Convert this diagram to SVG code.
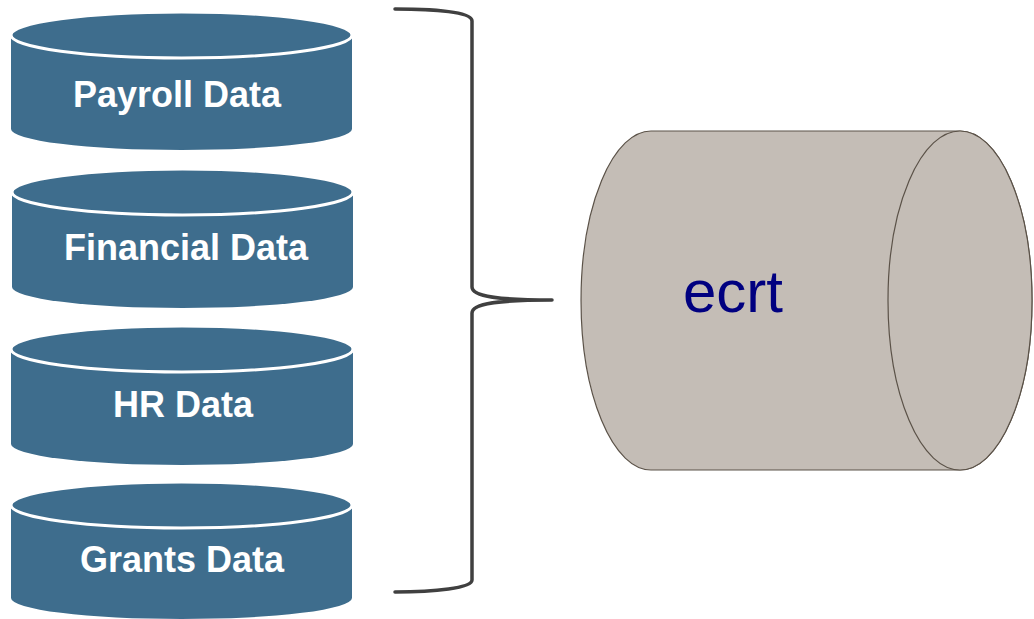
<svg xmlns="http://www.w3.org/2000/svg" width="1034" height="619" viewBox="0 0 1034 619">
<style>
.body{fill:#3e6d8d;}
.top{fill:#3e6d8d;stroke:#ffffff;stroke-width:3;}
.lbl{font-family:"Liberation Sans",Arial,sans-serif;font-weight:bold;font-size:36px;fill:#ffffff;text-anchor:middle;}
.brace{fill:none;stroke:#404040;stroke-width:3.5;stroke-linecap:round;stroke-linejoin:round;}
.gcyl{fill:#c4bdb6;stroke:#5b5248;stroke-width:1.2;}
.ecrt{font-family:"Liberation Sans",Arial,sans-serif;font-size:60px;fill:#000080;}
</style>
<rect width="1034" height="619" fill="#ffffff"/>
<g id="payroll">
<path class="body" d="M11,35 L11,129 A170.5,21 0 0 0 352,129 L352,35 Z"/>
<ellipse class="top" cx="181.5" cy="35" rx="170.5" ry="23"/>
<text class="lbl" x="177" y="107">Payroll Data</text>
</g>
<g id="financial">
<path class="body" d="M12,192 L12,287 A170.5,21 0 0 0 353,287 L353,192 Z"/>
<ellipse class="top" cx="182.5" cy="192" rx="170.5" ry="23"/>
<text class="lbl" x="186" y="260">Financial Data</text>
</g>
<g id="hr">
<path class="body" d="M11,349 L11,444 A171,21 0 0 0 353,444 L353,349 Z"/>
<ellipse class="top" cx="182" cy="349" rx="171" ry="23"/>
<text class="lbl" x="183" y="417">HR Data</text>
</g>
<g id="grants">
<path class="body" d="M11,505 L11,598 A170.5,21 0 0 0 352,598 L352,505 Z"/>
<ellipse class="top" cx="181.5" cy="505" rx="170.5" ry="23"/>
<text class="lbl" x="182" y="572">Grants Data</text>
</g>
<g id="connectors">
<path class="brace" d="M395,9 C435,9 472,12 472,21 L472,287 C472,297 500,300 552,300 C500,300 472,303 472,313 L472,580 C472,588 435,592 395,592"/>
</g>
<g id="ecrt">
<path class="gcyl" d="M960,131 L651,131 A70,169.5 0 0 0 651,470 L960,470 A72,169.5 0 0 0 960,131 Z"/>
<ellipse class="gcyl" cx="960" cy="300.5" rx="72" ry="169.5"/>
<text class="ecrt" x="683" y="312">ecrt</text>
</g>
</svg>
